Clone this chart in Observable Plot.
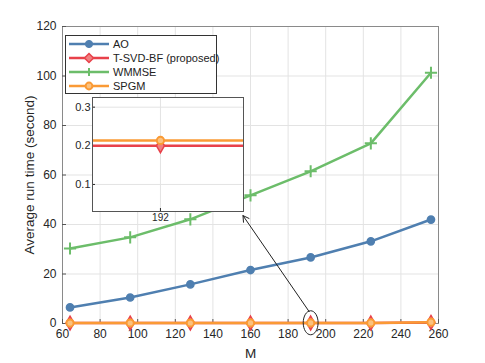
<!DOCTYPE html>
<html><head><meta charset="utf-8">
<script src="https://cdn.jsdelivr.net/npm/d3@7"></script>
<script src="https://cdn.jsdelivr.net/npm/@observablehq/plot@0.6"></script>
<style>
body{margin:0;background:#fff;font-family:"Liberation Sans",Arial,sans-serif;}
#wrap{position:relative;width:485px;height:363px;}
#inset{position:absolute;left:62px;top:95px;}
#legend{position:absolute;left:65px;top:35px;width:152px;height:59px;background:#fff;border:1px solid #333;box-sizing:border-box;font-size:11px;color:#222;}
#legend .row{position:absolute;left:2px;height:14px;display:flex;align-items:center;white-space:nowrap;}
#legend svg{margin-right:3px;}
</style></head>
<body><div id="wrap"><div id="main"></div><div id="inset"></div><div id="legend"></div></div>
<script>
const M = [64, 96, 128, 160, 192, 224, 256];
const AO = [6.5, 10.5, 15.8, 21.6, 26.7, 33.2, 42.0];
const TSVD = [0.17, 0.18, 0.19, 0.2, 0.2, 0.2, 0.45];
const WMMSE = [30.3, 34.8, 42.1, 51.8, 61.5, 72.8, 101.3];
const SPGM = [0.19, 0.2, 0.21, 0.214, 0.214, 0.214, 0.55];
const seriesNames = ["AO", "T-SVD-BF (proposed)", "WMMSE", "SPGM"];
const xTicks = [60, 80, 100, 120, 140, 160, 180, 200, 220, 240, 260];
const yTicks = [0, 20, 40, 60, 80, 100, 120];
const insetYTicks = [0.1, 0.2, 0.3];
const insetXTicks = [192];
const zoomPoint = [{x: 192, y: 0.3}];
const arrowData = [{x1: 191.2, y1: 4.8, x2: 156, y2: 43.6}];

const colors = {"AO": "#4f7fb0", "T-SVD-BF (proposed)": "#e8414a", "WMMSE": "#6cbd6a", "SPGM": "#fa9a35"};
const vals = {"AO": AO, "T-SVD-BF (proposed)": TSVD, "WMMSE": WMMSE, "SPGM": SPGM};
const drawOrder = ["AO", "WMMSE", "T-SVD-BF (proposed)", "SPGM"];
const data = s => M.map((m, i) => ({M: m, v: vals[s][i]}));

function seriesMarks(s, clip) {
  const c = colors[s], d = data(s);
  const marks = [Plot.line(d, {x: "M", y: "v", stroke: c, strokeWidth: 2.5, clip})];
  if (s === "AO") marks.push(Plot.dot(d, {x: "M", y: "v", r: 3.6, fill: c, stroke: c, clip}));
  if (s === "T-SVD-BF (proposed)") marks.push(Plot.dot(d, {x: "M", y: "v", r: 4.2, symbol: "diamond", fill: "#f08080", stroke: c, strokeWidth: 1.5, clip}));
  if (s === "WMMSE") marks.push(Plot.dot(d, {x: "M", y: "v", r: 4, symbol: "plus", stroke: c, strokeWidth: 2, clip}));
  if (s === "SPGM") marks.push(Plot.dot(d, {x: "M", y: "v", r: 3.6, fill: "#fbc27f", stroke: c, strokeWidth: 2, clip}));
  return marks;
}

const ellipseSymbol = {
  draw(ctx, size) {
    const r = Math.sqrt(size / Math.PI), rx = r * 0.62, ry = r, k = 0.5523;
    ctx.moveTo(rx, 0);
    ctx.bezierCurveTo(rx, ry*k, rx*k, ry, 0, ry);
    ctx.bezierCurveTo(-rx*k, ry, -rx, ry*k, -rx, 0);
    ctx.bezierCurveTo(-rx, -ry*k, -rx*k, -ry, 0, -ry);
    ctx.bezierCurveTo(rx*k, -ry, rx, -ry*k, rx, 0);
    ctx.closePath();
  }
};

const main = Plot.plot({
  width: 485, height: 363,
  marginLeft: 62, marginRight: 47, marginTop: 26, marginBottom: 40,
  style: {fontFamily: "Liberation Sans, Arial, sans-serif", fontSize: "11.5px", color: "#262626", background: "white"},
  x: {domain: [60, 260]},
  y: {domain: [0, 120]},
  marks: [
    Plot.gridX(xTicks, {stroke: "#e3e3e3", strokeOpacity: 1}),
    Plot.gridY(yTicks, {stroke: "#e3e3e3", strokeOpacity: 1}),
    Plot.frame({stroke: "#8a8a8a"}),
    Plot.axisX(xTicks, {tickSize: -4, tickPadding: 10, stroke: "#555", label: "M", labelAnchor: "center", labelArrow: "none", labelOffset: 34, fontSize: 12}),
    Plot.axisY(yTicks, {tickSize: -4, tickPadding: 10, stroke: "#555", label: "Average run time (second)", labelAnchor: "center", labelArrow: "none", labelOffset: 38, fontSize: 12}),
    ...drawOrder.flatMap(s => seriesMarks(s, false)),
    Plot.dot(zoomPoint, {x: "x", y: "y", r: 12, symbol: ellipseSymbol, stroke: "#222", strokeWidth: 1, fill: "none"}),
    Plot.arrow(arrowData, {x1: "x1", y1: "y1", x2: "x2", y2: "y2", stroke: "#222", strokeWidth: 1, headLength: 10, bend: 0})
  ]
});
main.querySelectorAll("g[aria-label='x-axis label'] text, g[aria-label='y-axis label'] text").forEach(t => t.setAttribute("font-size", "13.5"));
document.getElementById("main").append(main);

const inset = Plot.plot({
  width: 185, height: 135,
  marginLeft: 30, marginRight: 4, marginTop: 2, marginBottom: 19,
  style: {fontFamily: "Liberation Sans, Arial, sans-serif", fontSize: "11px", color: "#262626", background: "transparent"},
  x: {domain: [190.2, 194.2]},
  y: {domain: [0.03, 0.325]},
  marks: [
    Plot.frame({fill: "white", stroke: "#555"}),
    Plot.gridX(insetXTicks, {stroke: "#e3e3e3", strokeOpacity: 1}),
    Plot.gridY(insetYTicks, {stroke: "#e3e3e3", strokeOpacity: 1}),
    Plot.axisX(insetXTicks, {tickSize: -3, tickPadding: 5, label: null, fontSize: 10}),
    Plot.axisY(insetYTicks, {tickSize: -3, tickPadding: 5, label: null, tickFormat: d3.format(".1f"), fontSize: 11}),
    ...["T-SVD-BF (proposed)", "SPGM"].flatMap(s => seriesMarks(s, true)),
    Plot.frame({stroke: "#555"})
  ]
});
document.getElementById("inset").append(inset);

// legend
const leg = document.getElementById("legend");
const markerSvg = {
  "AO": c => `<circle cx="21" cy="6" r="3.6" fill="${c}" stroke="${c}"/>`,
  "T-SVD-BF (proposed)": c => `<path d="M21,1.5L25.5,6L21,10.5L16.5,6Z" fill="#f08080" stroke="${c}" stroke-width="1.5"/>`,
  "WMMSE": c => `<path d="M17,6H25M21,2V10" stroke="${c}" stroke-width="2"/>`,
  "SPGM": c => `<circle cx="21" cy="6" r="3.4" fill="#fbc27f" stroke="${c}" stroke-width="2"/>`
};
seriesNames.forEach((s, i) => {
  const c = colors[s];
  const row = document.createElement("div");
  row.className = "row";
  row.style.top = (1 + i * 14) + "px";
  row.innerHTML = `<svg width="42" height="12"><line x1="1" y1="6" x2="41" y2="6" stroke="${c}" stroke-width="2.5"/>${markerSvg[s](c)}</svg><span>${s}</span>`;
  leg.append(row);
});
</script></body></html>
